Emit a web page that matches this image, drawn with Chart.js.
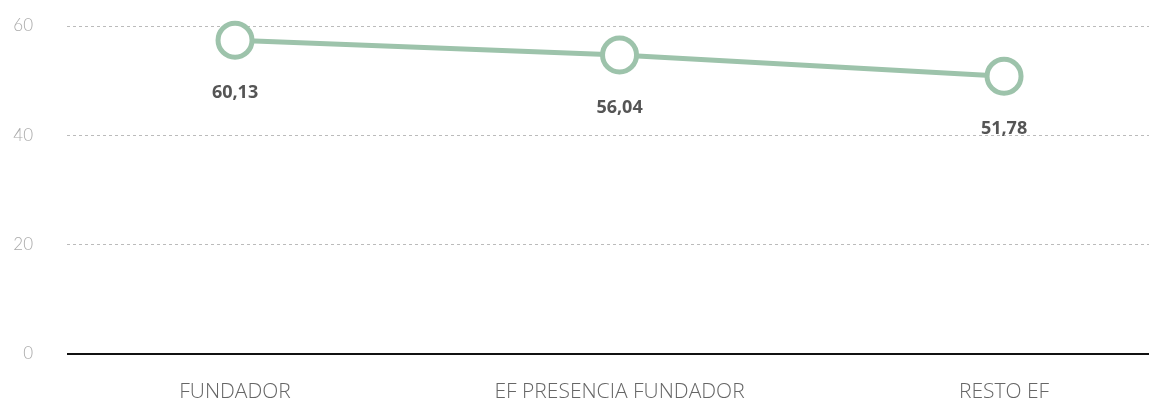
<!DOCTYPE html>
<html>
<head>
<meta charset="utf-8">
<script src="https://cdn.jsdelivr.net/npm/chart.js@4"></script>
<style>
  body { margin: 0; background: #fff; }
  #wrap { width: 1149px; height: 401px; }
</style>
</head>
<body>
<div id="wrap"><canvas id="myChart"></canvas></div>
<script>
var categorias = ['FUNDADOR', 'EF PRESENCIA FUNDADOR', 'RESTO EF'];
var valores = [57.4, 54.7, 50.8];          // posicion dibujada en el grafico
var etiquetas = ['60,13', '56,04', '51,78']; // texto de las etiquetas
var ticksY = [0, 20, 40, 60];

var etiquetasPlugin = {
  id: 'etiquetas',
  afterDatasetsDraw: function(chart) {
    var ctx = chart.ctx;
    var meta = chart.getDatasetMeta(0);
    ctx.save();
    ctx.font = 'bold 18px "Open Sans", sans-serif';
    ctx.fillStyle = '#555555';
    ctx.textAlign = 'center';
    ctx.textBaseline = 'middle';
    meta.data.forEach(function(p, i) {
      ctx.fillText(etiquetas[i], p.x, p.y + 53);
    });
    ctx.restore();
  }
};

var ctx = document.getElementById('myChart').getContext('2d');
var myChart = new Chart(ctx, {
  type: 'line',
  data: {
    datasets: [{
      data: categorias.map(function(c, i) { return {x: i, y: valores[i]}; }),
      borderColor: '#9dc3ab',
      borderWidth: 5,
      pointRadius: 17,
      pointBorderWidth: 5,
      pointBackgroundColor: '#ffffff',
      pointBorderColor: '#9dc3ab',
      tension: 0,
      clip: false
    }]
  },
  options: {
    responsive: true,
    maintainAspectRatio: false,
    animation: false,
    layout: { autoPadding: false, padding: { top: 26, right: 0, left: 0, bottom: 0 } },
    plugins: {
      legend: { display: false },
      tooltip: { enabled: false }
    },
    scales: {
      x: {
        type: 'linear',
        min: -0.437,
        max: 2.377,
        afterBuildTicks: function(s) {
          s.ticks = categorias.map(function(c, i) { return {value: i}; });
        },
        afterFit: function(s) {
          s.height = 47;
          s.paddingLeft = 0;
          s.paddingRight = 0;
        },
        grid: { display: false, drawTicks: false },
        border: { display: false },
        ticks: {
          padding: 25,
          color: '#666666',
          font: { family: '"Open Sans", sans-serif', size: 21, weight: '300' },
          callback: function(v) { return categorias[v]; },
          maxRotation: 0,
          autoSkip: false
        }
      },
      y: {
        min: 0,
        max: 60,
        afterBuildTicks: function(s) {
          s.ticks = ticksY.map(function(v) { return {value: v}; });
        },
        afterFit: function(s) {
          s.width = 67;
          s.paddingTop = 0;
          s.paddingBottom = 0;
        },
        grid: {
          drawTicks: false,
          color: function(c) { return c.tick.value === 0 ? '#111111' : '#bbbbbb'; },
          lineWidth: function(c) { return c.tick.value === 0 ? 2 : 1; }
        },
        border: {
          display: false,
          dash: function(c) { return c.tick && c.tick.value === 0 ? [] : [3, 3]; }
        },
        ticks: {
          padding: 34,
          color: '#aaaaaa',
          font: { family: 'Lato, "Open Sans", sans-serif', size: 17, weight: '300' }
        }
      }
    }
  },
  plugins: [etiquetasPlugin]
});
</script>
</body>
</html>
